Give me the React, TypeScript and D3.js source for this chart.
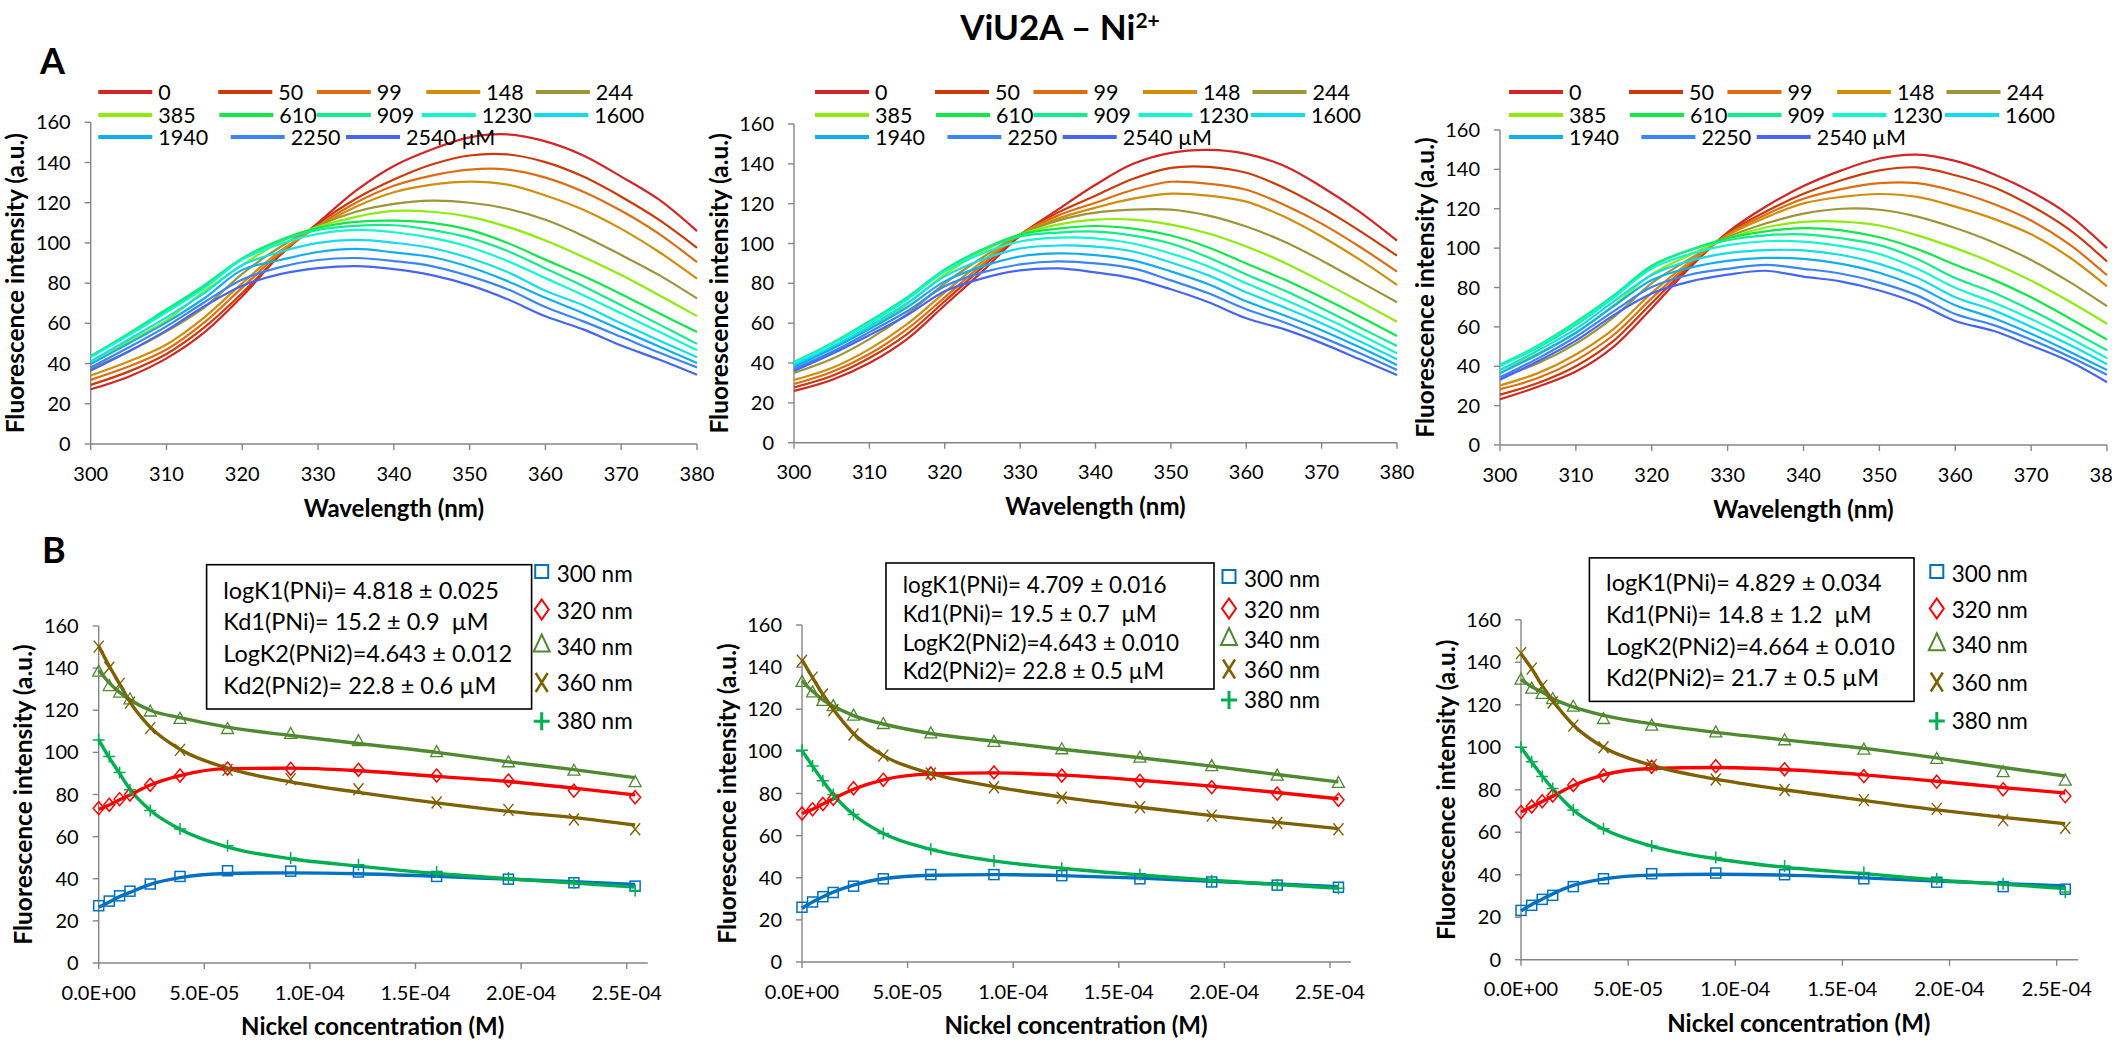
import React from "react";
import * as d3 from "d3";

const FONT = "Lato, 'Noto Sans', sans-serif";
const AXIS = "#868686";

// ---------- data ----------
const WAVELENGTHS = [300, 305, 310, 315, 320, 325, 330, 335, 340, 345, 350, 355, 360, 365, 370, 375, 380];
const CONC_LABELS = ["0", "50", "99", "148", "244", "385", "610", "909", "1230", "1600", "1940", "2250", "2540 µM"];
const SPEC_COLORS = ["#D42424", "#CC3A0A", "#E06C12", "#D18E0C", "#9E9438", "#8CEC0C", "#10E84A", "#10EE8C", "#14F5D2", "#10DDEE", "#10AEEE", "#3A86F4", "#4666F2"];

const SPECTRA_A1 = [
  [27.2, 33.5, 42.6, 55.5, 73.5, 94, 110, 126, 138.3, 146.5, 152.5, 154, 150.5, 143.5, 133, 121.5, 105.9],
  [29.4, 36, 44.8, 58, 75.1, 94, 109.5, 122, 131.5, 139, 143.5, 144, 140.2, 133, 123, 111.5, 97.6],
  [31.9, 38.5, 47, 60.5, 77.8, 95, 108.5, 120, 128.4, 133.5, 136.5, 136.5, 132.5, 125.5, 116, 104.5, 90.4],
  [34.1, 41, 49.5, 63, 80, 96, 108, 118, 125.2, 129, 130.5, 129, 123.6, 116.5, 107, 95.5, 82.2],
  [37.5, 46, 56, 68, 84.6, 98, 108.5, 115.5, 119.4, 121, 120, 117, 111.5, 103.5, 94, 84, 72.4],
  [41.1, 51, 61.5, 76, 89, 100.5, 108, 113, 115.9, 115.5, 113, 108, 101.2, 93, 84, 74, 63.6],
  [43.8, 54.5, 66, 78.5, 92.3, 101.5, 107.5, 110.5, 111.1, 110, 106.5, 100, 91.7, 83.5, 74.5, 65, 55.7],
  [43.6, 55, 67, 79, 92.2, 101, 106.5, 108.5, 108.8, 106.5, 102.5, 96, 87.3, 78.5, 69, 59.5, 49.8],
  [43.2, 54, 65.5, 77.5, 91.7, 99.5, 104.5, 106.5, 105.3, 102.5, 98, 91, 82.5, 74, 65, 55.8, 46.6],
  [41.1, 52, 63, 75, 89, 95.5, 100, 101.5, 100.1, 97.5, 92.5, 85.5, 76.2, 69, 60, 51.5, 43.2],
  [39.8, 50, 60.5, 72.5, 86.6, 91.5, 95.5, 97, 95.3, 93, 88, 81, 72.7, 65, 56.7, 48.5, 40.3],
  [38.1, 48, 58.5, 70.5, 81.8, 88, 91.5, 92.5, 91, 88.5, 83.5, 77, 68.1, 61, 53.3, 45.5, 38.1],
  [36.5, 46, 56.5, 68.5, 78.7, 84.5, 87.5, 88.5, 87, 84, 79, 72, 63.5, 57, 49, 42, 34.4],
];

const SPECTRA_A2 = [
  [26, 31.5, 40, 52, 69, 86, 104, 117, 129.5, 140, 145.5, 147, 145, 139, 128.5, 116, 101.4],
  [27.8, 33.5, 42.5, 54.5, 71, 88, 104.5, 115.5, 124, 132.5, 138, 138.5, 135.5, 128, 118, 106.5, 93.9],
  [29.5, 35.5, 44.5, 57, 73, 89.5, 104.5, 114, 120.5, 127, 131, 130, 127, 119.5, 110, 98.5, 85.9],
  [31.5, 37.5, 47, 59.5, 75.5, 91, 104.5, 112.5, 118, 122.5, 125, 124, 121, 113.5, 103.5, 92, 79.2],
  [35, 42, 52, 64.5, 80, 93, 104.5, 111.5, 115.5, 117, 117, 114, 108.5, 101, 91.5, 81, 70.5],
  [38.5, 47, 57.5, 69.5, 84.5, 96, 104.5, 109.5, 112, 112, 109.5, 105, 98.5, 90.5, 81, 71, 60.7],
  [40, 49.5, 60, 72, 86.5, 97, 104.5, 107.5, 108.8, 107.5, 104, 98, 90, 82, 73, 63.5, 53.6],
  [40.5, 50, 61, 73, 87, 97, 103.5, 105.5, 106, 104, 100, 93, 84.5, 76.5, 67.5, 58, 48.5],
  [40, 49.5, 60, 72, 86, 95, 101, 103, 102.6, 100, 95, 88.5, 80, 72, 63.5, 54.5, 44.9],
  [39, 48, 58.5, 70, 83.5, 92, 97.5, 99, 98.4, 96, 90.5, 84, 75.5, 68, 60, 51, 41.9],
  [38, 47, 57, 68, 81, 88.5, 93.5, 95, 94.2, 91.5, 86, 79.5, 71, 64, 56.5, 48, 39],
  [37, 45.5, 55.5, 66, 78.5, 85.5, 89.5, 91, 90, 87.5, 81.5, 75, 67, 60.5, 53, 45, 36.5],
  [36, 44.5, 54, 64, 76, 82.5, 86.5, 87.5, 85.5, 82.5, 77, 70.5, 62.5, 57, 50, 42, 34],
];

const SPECTRA_A3 = [
  [23.2, 29.6, 37.3, 50, 69.5, 90, 108, 121, 131.5, 139.5, 145.5, 147.5, 144.3, 137.7, 128.7, 116.8, 100],
  [25.6, 31.5, 40, 53, 72.1, 91, 107.5, 118.5, 127.6, 134.5, 139.5, 141, 137, 131, 121.5, 109.5, 93.2],
  [28.4, 34, 43, 56, 74.6, 92, 107, 117, 125.1, 130, 133, 133, 128.9, 122.5, 114, 102, 86.2],
  [30.3, 36.5, 46, 59, 77.3, 93, 106.5, 115.5, 122.7, 126, 127.5, 126, 121.1, 115, 107, 95.5, 80.6],
  [34.4, 41.5, 51.5, 65, 82.2, 94.5, 105.5, 112.5, 117.5, 120, 119.5, 116, 110.2, 103, 94, 83, 70.5],
  [38.1, 46.5, 57, 71, 86.7, 96.5, 105, 110.5, 113.3, 113.5, 111.5, 106.5, 100, 92.5, 83.5, 73, 61.6],
  [40.5, 49.5, 61, 75, 90.8, 99, 105, 108.5, 110.2, 109, 105.5, 99.5, 91.6, 84, 75, 64.5, 53.5],
  [40.8, 50.5, 62.5, 76, 91.1, 99, 104, 106.5, 107, 105, 101.5, 94.5, 84.8, 77.5, 68.5, 58.5, 48.1],
  [40, 50, 61.5, 75, 89.6, 97, 101.5, 103.5, 103.3, 101, 97, 89.5, 79.9, 72.5, 64, 54.5, 44.1],
  [38.1, 48, 59, 73, 86.4, 93.5, 97.5, 99, 98.9, 96.5, 92, 85, 75.1, 68.5, 60, 51, 41],
  [36.5, 46, 57, 70.5, 83.8, 90, 93.5, 95, 94.5, 92, 87.5, 80.5, 71, 64.5, 56.5, 47.5, 38.1],
  [34.4, 44, 55, 68, 80.2, 86.5, 89.5, 91.5, 89.5, 87, 82.5, 76, 66.5, 61, 53.5, 45, 35.7],
  [33.2, 42.5, 53, 66, 77, 83, 86.5, 88.5, 85.5, 83, 78.5, 72, 63, 58, 50.5, 42.5, 31.9],
];

const CONC_M = [0, 5.0e-6, 9.9e-6, 1.48e-5, 2.44e-5, 3.85e-5, 6.1e-5, 9.09e-5, 1.23e-4, 1.6e-4, 1.94e-4, 2.25e-4, 2.54e-4];
const B_SERIES = ["300 nm", "320 nm", "340 nm", "360 nm", "380 nm"];
const B_LINE_COLORS = ["#0070C0", "#FF0000", "#4F8A30", "#7F6000", "#00B050"];
const B_MARK_COLORS = ["#0070C0", "#FF0000", "#4F8A30", "#7F6000", "#00B050"];

const B1_POINTS = [
  [27.2, 29.4, 31.9, 34.1, 37.5, 41.1, 43.8, 43.6, 43.2, 41.1, 39.8, 38.1, 36.5],
  [73.5, 75.1, 77.8, 80.0, 84.6, 89.0, 92.3, 92.2, 91.7, 89.0, 86.6, 81.8, 78.7],
  [138.3, 131.5, 128.4, 125.2, 119.4, 115.9, 111.1, 108.8, 105.3, 100.1, 95.3, 91.3, 85.9],
  [150.2, 140.2, 132.5, 123.6, 111.5, 101.2, 91.7, 87.3, 82.5, 76.2, 72.7, 68.1, 63.5],
  [105.9, 98.0, 90.4, 82.2, 72.4, 63.6, 55.7, 49.8, 46.6, 43.2, 40.3, 38.1, 34.4],
];
const B1_FITS = [
  [26.5, 29, 31.5, 33.5, 37.3, 40.5, 42.5, 42.8, 42.4, 41.2, 39.8, 38.6, 37.3],
  [73, 75, 77.5, 79.8, 84.5, 89, 92.3, 92.5, 91.3, 88.6, 86.2, 83, 79.8],
  [139, 133, 128.5, 125, 120, 116.5, 112, 108, 104.2, 100, 95.5, 91.8, 88],
  [150.5, 141, 132.5, 124, 112, 101.5, 92.5, 86, 81, 76, 72, 69, 65.5],
  [106, 97.5, 90, 82.5, 72.5, 63.5, 55, 49.5, 46, 42.5, 40, 38, 36],
];
const B2_POINTS = [
  [26, 28.5, 31, 33, 36, 39.5, 41.5, 41.5, 41, 39.5, 38, 36.5, 35.5],
  [70.5, 72.5, 75, 77.5, 82.5, 86.5, 89.5, 90, 88.5, 86, 83, 80, 77],
  [133, 128, 124, 121.5, 117, 113, 108.5, 104.5, 101, 97, 93, 88.5, 85],
  [143, 135, 127, 119.5, 108, 98, 89.5, 83, 78, 73.5, 69.5, 66, 63],
  [100.5, 93, 86, 79.5, 70, 61, 53.5, 48, 44.5, 41.5, 38.5, 36.5, 35],
];
const B2_FITS = [
  [25.5, 28.5, 31, 33.2, 36.5, 39.5, 41.2, 41.5, 41, 39.8, 38.3, 37, 35.8],
  [70.5, 72.5, 75, 77.5, 82, 86.5, 89.3, 89.8, 88.7, 86.3, 83.5, 80.5, 77.5],
  [133.5, 128.5, 124.5, 121.5, 117, 113, 108.5, 104.8, 101, 97, 93, 89, 85.5],
  [143.5, 135, 127, 120, 108.5, 98, 89.5, 83.3, 78.3, 73.5, 69.5, 66.3, 63.3],
  [100.5, 93, 86, 79.5, 70, 61, 53.5, 48, 44.5, 41.3, 38.8, 36.8, 35],
];
const B3_POINTS = [
  [23.2, 25.6, 28.4, 30.3, 34.4, 38.1, 40.5, 40.8, 40.0, 38.1, 36.5, 34.4, 33.2],
  [69.5, 72.1, 74.6, 77.3, 82.2, 86.7, 90.8, 91.1, 89.6, 86.4, 83.8, 80.2, 77.0],
  [131.8, 127.6, 125.1, 122.7, 119.1, 113.3, 110.2, 107.0, 103.3, 98.9, 94.5, 88.3, 84.3],
  [144.3, 137.0, 128.9, 121.1, 110.2, 100.0, 91.6, 84.8, 79.9, 75.1, 71.0, 65.7, 62.1],
  [100.0, 93.2, 86.2, 80.6, 70.5, 61.6, 53.5, 48.1, 44.1, 41.0, 38.1, 35.7, 31.9],
];
const B3_FITS = [
  [23, 26, 28.5, 31, 35, 38, 39.8, 40.2, 39.8, 38.5, 37, 35.8, 34.7],
  [69.5, 72, 74.5, 77, 82, 87, 90, 90.5, 89.5, 87, 84, 81, 78.5],
  [132, 128.5, 126, 123, 119, 115, 111, 107, 103.5, 99.5, 95, 90.5, 86.5],
  [144, 137, 129, 122, 110.5, 100, 91.5, 85, 80, 75, 70.5, 67, 64],
  [100, 93, 86.5, 80.5, 70.5, 61.5, 53.5, 47.5, 43.5, 40.5, 37.5, 35.5, 33.5],
];

const BOX_TEXT_1 = ["logK1(PNi)= 4.818 ± 0.025", "Kd1(PNi)= 15.2 ± 0.9  µM", "LogK2(PNi2)=4.643 ± 0.012", "Kd2(PNi2)= 22.8 ± 0.6 µM"];
const BOX_TEXT_2 = ["logK1(PNi)= 4.709 ± 0.016", "Kd1(PNi)= 19.5 ± 0.7  µM", "LogK2(PNi2)=4.643 ± 0.010", "Kd2(PNi2)= 22.8 ± 0.5 µM"];
const BOX_TEXT_3 = ["logK1(PNi)= 4.829 ± 0.034", "Kd1(PNi)= 14.8 ± 1.2  µM", "LogK2(PNi2)=4.664 ± 0.010", "Kd2(PNi2)= 21.7 ± 0.5 µM"];

const Y_TICKS = [0, 20, 40, 60, 80, 100, 120, 140, 160];
const WL_TICKS = [300, 310, 320, 330, 340, 350, 360, 370, 380];
const CONC_TICKS = [0, 1, 2, 3, 4, 5].map((i) => i * 5e-5);

// ---------- layout ----------
const A_FRAMES = [
  { x0: 90.7, x1: 697, yb: 444, yt: 122.3, legendX: 98.3 },
  { x0: 794, x1: 1397, yb: 442.7, yt: 124, legendX: 815 },
  { x0: 1500, x1: 2107, yb: 445, yt: 130, legendX: 1509 },
];
const B_FRAMES = [
  { x0: 98.7, x25: 626.7, yb: 963, yt: 626, boxX: 206.6, boxY: 564.7, boxW: 325, boxH: 144.3, lineOff: 25.3, lineGap: 31.7, boxFs: 23.5, legX: 541.7, legY: [574, 610.5, 646.5, 683, 721.3] },
  { x0: 802, x25: 1330, yb: 962, yt: 625, boxX: 886, boxY: 563, boxW: 328, boxH: 126, lineOff: 21.5, lineGap: 28.8, boxFs: 22.5, legX: 1229, legY: [579, 609.5, 640, 669.5, 700] },
  { x0: 1521, x25: 2056.7, yb: 959.7, yt: 619.8, boxX: 1589.4, boxY: 557.9, boxW: 324.6, boxH: 143.5, lineOff: 25, lineGap: 31.6, boxFs: 23.5, legX: 1936.8, legY: [574, 609.5, 645.3, 682.5, 721] },
];
const LEGEND_ROWS = [[0, 1, 2, 3, 4], [5, 6, 7, 8, 9], [10, 11, 12]];
const LEGEND_COLS = [[0, 120, 218.5, 328, 437.5], [0, 121, 218.5, 323.5, 436], [0, 132.4, 247.7]];
const LEGEND_ROW_Y = [92, 115, 137];

const TICK_FS = 20;

function fmtSci(v: number) {
  if (v === 0) return "0.0E+00";
  const e = Math.floor(Math.log10(v) + 1e-9);
  const m = v / Math.pow(10, e);
  return m.toFixed(1) + "E-" + String(-e).padStart(2, "0");
}

function YAxis({ x0, y }: { x0: number; y: d3.ScaleLinear<number, number> }) {
  const [yb, yt] = y.range();
  return (
    <g>
      <line x1={x0} x2={x0} y1={yb} y2={yt} stroke={AXIS} strokeWidth={1.4} />
      {Y_TICKS.map((t) => (
        <g key={t}>
          <line x1={x0 - 6} x2={x0} y1={y(t)} y2={y(t)} stroke={AXIS} strokeWidth={1.4} />
          <text x={x0 - 20} y={y(t) + 7} textAnchor="end" fontSize={TICK_FS} fill="#000">{t}</text>
        </g>
      ))}
    </g>
  );
}

function YTitle({ cx, cy }: { cx: number; cy: number }) {
  return (
    <text transform={`translate(${cx + 8.5},${cy}) rotate(-90)`} textAnchor="middle" fontWeight="bold" fontSize={24.5}>
      Fluorescence intensity (a.u.)
    </text>
  );
}

function SpectraPanel({ f, data }: { f: any; data: number[][] }) {
  const x = d3.scaleLinear().domain([300, 380]).range([f.x0, f.x1]);
  const y = d3.scaleLinear().domain([0, 160]).range([f.yb, f.yt]);
  const line = d3
    .line<number>()
    .x((_, i) => x(WAVELENGTHS[i]))
    .y((d) => y(d))
    .curve(d3.curveCatmullRom.alpha(0.5));
  return (
    <g>
      <YAxis x0={f.x0} y={y} />
      <line x1={f.x0} x2={f.x1} y1={f.yb} y2={f.yb} stroke={AXIS} strokeWidth={1.4} />
      {WL_TICKS.map((t) => (
        <g key={t}>
          <line x1={x(t)} x2={x(t)} y1={f.yb} y2={f.yb + 6} stroke={AXIS} strokeWidth={1.4} />
          <text x={x(t)} y={f.yb + 36.5} textAnchor="middle" fontSize={TICK_FS}>{t}</text>
        </g>
      ))}
      {data.map((row, i) => (
        <path key={i} d={line(row) || ""} fill="none" stroke={SPEC_COLORS[i]} strokeWidth={2.2} strokeLinejoin="round" />
      ))}
      {LEGEND_ROWS.map((row, r) =>
        row.map((si, c) => {
          const lx = f.legendX + LEGEND_COLS[r][c];
          const ly = LEGEND_ROW_Y[r];
          return (
            <g key={si}>
              <line x1={lx} x2={lx + 54} y1={ly} y2={ly} stroke={SPEC_COLORS[si]} strokeWidth={4} />
              <text x={lx + 60} y={ly + 7.5} fontSize={21.5}>{CONC_LABELS[si]}</text>
            </g>
          );
        })
      )}
      <text x={(f.x0 + f.x1) / 2} y={f.yb + 72.5} textAnchor="middle" fontWeight="bold" fontSize={24}>
        Wavelength (nm)
      </text>
      <YTitle cx={f.x0 - 75} cy={(f.yb + f.yt) / 2} />
    </g>
  );
}

function Marker({ kind, cx, cy, color }: { kind: number; cx: number; cy: number; color: string }) {
  const s = 5;
  if (kind === 0) return <rect x={cx - s} y={cy - s} width={2 * s} height={2 * s} fill="none" stroke={color} strokeWidth={1.5} />;
  if (kind === 1)
    return <path d={`M${cx},${cy - 6.5}L${cx + 5.5},${cy}L${cx},${cy + 6.5}L${cx - 5.5},${cy}Z`} fill="none" stroke={color} strokeWidth={1.5} />;
  if (kind === 2)
    return <path d={`M${cx},${cy - 6.5}L${cx + 6},${cy + 4.5}L${cx - 6},${cy + 4.5}Z`} fill="none" stroke={color} strokeWidth={1.3} />;
  if (kind === 3)
    return <path d={`M${cx - 5},${cy - 6}L${cx + 5},${cy + 6}M${cx + 5},${cy - 6}L${cx - 5},${cy + 6}`} stroke={color} strokeWidth={1.4} />;
  return <path d={`M${cx - 6},${cy}L${cx + 6},${cy}M${cx},${cy - 6}L${cx},${cy + 6}`} stroke={color} strokeWidth={1.5} />;
}

function LegendMarker({ kind, cx, cy, color }: { kind: number; cx: number; cy: number; color: string }) {
  if (kind === 0) return <rect x={cx - 6.5} y={cy - 9} width={13} height={13} fill="none" stroke={color} strokeWidth={2} />;
  if (kind === 1)
    return <path d={`M${cx},${cy - 11}L${cx + 7},${cy - 1}L${cx},${cy + 9}L${cx - 7},${cy - 1}Z`} fill="none" stroke={color} strokeWidth={2} />;
  if (kind === 2)
    return <path d={`M${cx},${cy - 12}L${cx + 8},${cy + 5}L${cx - 8},${cy + 5}Z`} fill="none" stroke={color} strokeWidth={2} />;
  if (kind === 3)
    return <path d={`M${cx - 6},${cy - 10}L${cx + 6},${cy + 9}M${cx + 6},${cy - 10}L${cx - 6},${cy + 9}`} stroke={color} strokeWidth={2.5} />;
  return <path d={`M${cx - 8},${cy}L${cx + 8},${cy}M${cx},${cy - 9}L${cx},${cy + 9}`} stroke={color} strokeWidth={3} />;
}

function TitrationPanel({ f, points, fits, box }: { f: any; points: number[][]; fits: number[][]; box: string[] }) {
  const x = d3.scaleLinear().domain([0, 2.5e-4]).range([f.x0, f.x25]);
  const y = d3.scaleLinear().domain([0, 160]).range([f.yb, f.yt]);
  const line = d3
    .line<number>()
    .x((_, i) => x(CONC_M[i]))
    .y((d) => y(d))
    .curve(d3.curveMonotoneX);
  return (
    <g>
      <YAxis x0={f.x0} y={y} />
      <line x1={f.x0} x2={x(2.6e-4)} y1={f.yb} y2={f.yb} stroke={AXIS} strokeWidth={1.4} />
      {CONC_TICKS.map((t, i) => (
        <g key={i}>
          <line x1={x(t)} x2={x(t)} y1={f.yb} y2={f.yb + 6} stroke={AXIS} strokeWidth={1.4} />
          <text x={x(t)} y={f.yb + 36.5} textAnchor="middle" fontSize={TICK_FS}>{fmtSci(t)}</text>
        </g>
      ))}
      {fits.map((row, i) => (
        <path key={"f" + i} d={line(row) || ""} fill="none" stroke={B_LINE_COLORS[i]} strokeWidth={3.4} strokeLinejoin="round" />
      ))}
      {points.map((row, i) =>
        row.map((v, j) => <Marker key={i + "-" + j} kind={i} cx={x(CONC_M[j])} cy={y(v)} color={B_MARK_COLORS[i]} />)
      )}
      <rect x={f.boxX} y={f.boxY} width={f.boxW} height={f.boxH} fill="#fff" stroke="#000" strokeWidth={1.6} />
      {box.map((t, i) => (
        <text
          key={t}
          x={f.boxX + 16.7}
          y={f.boxY + f.lineOff + i * f.lineGap + 8.5}
          fontSize={f.boxFs}
          style={{ whiteSpace: "pre" }}
        >
          {t}
        </text>
      ))}
      {B_SERIES.map((s, i) => (
        <g key={s}>
          <LegendMarker kind={i} cx={f.legX} cy={f.legY[i]} color={B_MARK_COLORS[i]} />
          <text x={f.legX + 15} y={f.legY[i] + 8} fontSize={22.5}>{s}</text>
        </g>
      ))}
      <text x={(f.x0 + f.x25) / 2 + 10} y={f.yb + 72} textAnchor="middle" fontWeight="bold" fontSize={24}>
        Nickel concentration (M)
      </text>
      <YTitle cx={f.x0 - 75} cy={(f.yb + f.yt) / 2} />
    </g>
  );
}

export default function App() {
  const spectra = [SPECTRA_A1, SPECTRA_A2, SPECTRA_A3];
  const pts = [B1_POINTS, B2_POINTS, B3_POINTS];
  const fits = [B1_FITS, B2_FITS, B3_FITS];
  const boxes = [BOX_TEXT_1, BOX_TEXT_2, BOX_TEXT_3];
  return (
    <svg
      width={2112}
      height={1040}
      style={{ position: "absolute", left: 0, top: 0, display: "block", background: "#fff" }}
      fontFamily={FONT}
    >
      <rect width={2112} height={1040} fill="#fff" />
      <text x={1060} y={40} textAnchor="middle" fontWeight="bold" fontSize={35}>
        ViU2A – Ni<tspan dy={-12} fontSize={21}>2+</tspan>
      </text>
      <text x={40} y={74} fontWeight="bold" fontSize={36}>A</text>
      <text x={42} y={563} fontWeight="bold" fontSize={36}>B</text>
      {A_FRAMES.map((f, i) => (
        <SpectraPanel key={i} f={f} data={spectra[i]} />
      ))}
      {B_FRAMES.map((f, i) => (
        <TitrationPanel key={i} f={f} points={pts[i]} fits={fits[i]} box={boxes[i]} />
      ))}
    </svg>
  );
}
